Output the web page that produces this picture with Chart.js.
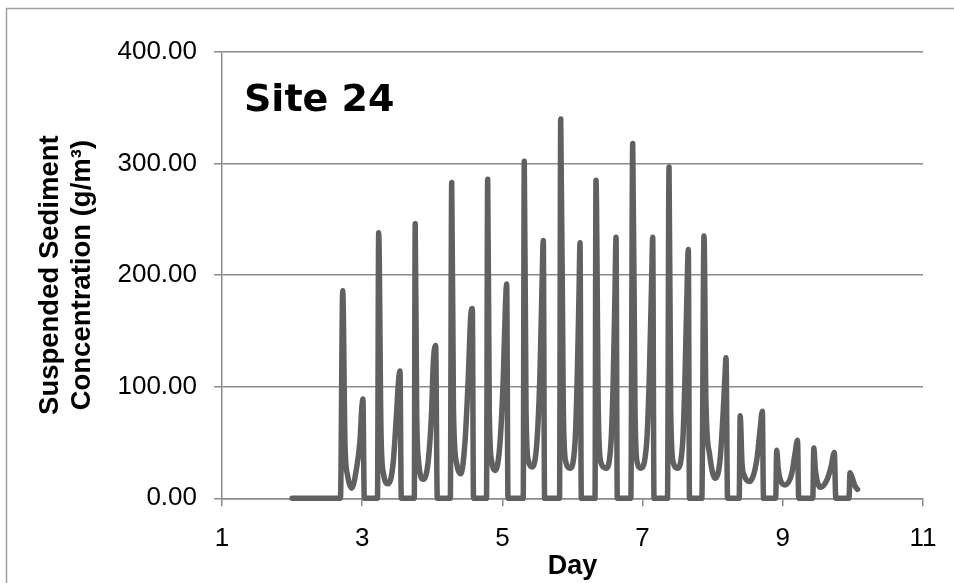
<!DOCTYPE html>
<html>
<head>
<meta charset="utf-8">
<title>Site 24 - Suspended Sediment Concentration</title>
<script src="https://cdn.jsdelivr.net/npm/chart.js@4/dist/chart.umd.min.js"></script>
<style>
  html, body { margin: 0; padding: 0; background: #ffffff; }
  #wrap { width: 954px; height: 583px; position: relative; }
</style>
</head>
<body>
<div id="wrap"><canvas id="chart" width="954" height="583"></canvas></div>
<script>
// Time (days) of each logged sample
const days = [
  2.000, 2.690,
  2.722, 2.755, 2.793, 2.850, 2.922, 2.969, 2.993, 3.010, 3.030,
  3.218, 3.235, 3.268, 3.304, 3.368, 3.439, 3.489, 3.518, 3.539, 3.558,
  3.743, 3.756, 3.777, 3.800, 3.872, 3.943, 3.991, 4.014, 4.048, 4.071,
  4.257, 4.277, 4.302, 4.348, 4.405, 4.466, 4.514, 4.548, 4.571, 4.588,
  4.773, 4.790, 4.813, 4.847, 4.902, 4.966, 5.013, 5.041, 5.061, 5.080,
  5.297, 5.312, 5.337, 5.369, 5.427, 5.494, 5.536, 5.565, 5.583, 5.602,
  5.815, 5.832, 5.869, 5.907, 5.964, 6.036, 6.068, 6.093, 6.107, 6.126,
  6.321, 6.335, 6.368, 6.406, 6.478, 6.549, 6.582, 6.606, 6.621, 6.639,
  6.832, 6.859, 6.892, 6.924, 6.973, 7.058, 7.096, 7.130, 7.144, 7.163,
  7.355, 7.377, 7.401, 7.438, 7.495, 7.572, 7.605, 7.633, 7.652, 7.669,
  7.845, 7.876, 7.904, 7.954, 8.033, 8.104, 8.151, 8.175, 8.190, 8.212,
  8.378, 8.392, 8.418, 8.454, 8.522, 8.628, 8.675, 8.708, 8.725,
  8.899, 8.913, 8.936, 8.974, 9.031, 9.127, 9.174, 9.210, 9.227,
  9.428, 9.442, 9.466, 9.538, 9.626, 9.688, 9.735, 9.756,
  9.944, 9.959, 9.987, 10.030, 10.066
];

// Suspended sediment concentration (g/m3) at each sample
const ssc = [
  0, 0,
  186, 48, 20, 9, 28, 52, 80, 89, 0,
  0, 238, 60, 22, 13, 30, 75, 105, 114, 0,
  0, 246, 79, 36, 17, 34, 79, 121, 137, 0,
  0, 283, 79, 31, 22, 50, 109, 163, 170, 0,
  0, 286, 79, 33, 25, 50, 109, 169, 192, 0,
  0, 302, 80, 34, 28, 52, 112, 190, 231, 0,
  0, 340, 79, 32, 27, 50, 109, 184, 229, 0,
  0, 285, 79, 32, 27, 50, 109, 185, 234, 0,
  0, 318, 79, 32, 27, 50, 109, 198, 234, 0,
  0, 297, 79, 32, 27, 50, 109, 184, 223, 0,
  0, 235, 85, 40, 18, 34, 79, 110, 126, 0,
  0, 74, 32, 20, 15, 34, 61, 78, 0,
  0, 43, 26, 15, 12, 22, 40, 52, 0,
  0, 45, 25, 10, 16, 28, 41, 0,
  0, 23, 19, 11, 8
];

// Axis tick values
const dayTicks = [1, 3, 5, 7, 9, 11];
const sscTicks = [0, 100, 200, 300, 400];

const siteLabel = 'Site 24';
const xTitle = 'Day';
const yTitle = ['Suspended Sediment', 'Concentration (g/m\u00B3)'];

const axisGrey = '#8a8a8a';
const lineGrey = '#606060';

const points = days.map((d, i) => ({ x: d, y: ssc[i] }));

// White page with a thin frame, plus the site label inside the plot
const decorations = {
  id: 'decorations',
  beforeDraw(chart) {
    const ctx = chart.ctx;
    ctx.save();
    ctx.fillStyle = '#ffffff';
    ctx.fillRect(0, 0, chart.width, chart.height);
    ctx.strokeStyle = '#a0a0a0';
    ctx.lineWidth = 1.5;
    ctx.beginPath();
    ctx.moveTo(6.5, chart.height + 5);
    ctx.lineTo(6.5, 8.5);
    ctx.lineTo(chart.width + 5, 8.5);
    ctx.stroke();
    ctx.restore();
  },
  afterDraw(chart) {
    const ctx = chart.ctx;
    ctx.save();
    ctx.fillStyle = '#000000';
    ctx.font = 'bold 38px "DejaVu Sans"';
    ctx.textBaseline = 'alphabetic';
    ctx.textAlign = 'left';
    ctx.fillText(siteLabel, 244, 111);
    ctx.restore();
  }
};

new Chart(document.getElementById('chart'), {
  type: 'line',
  data: {
    datasets: [{
      data: points,
      borderColor: lineGrey,
      borderWidth: 5.5,
      pointRadius: 0,
      pointHoverRadius: 0,
      fill: false,
      cubicInterpolationMode: 'monotone',
      borderJoinStyle: 'round',
      borderCapStyle: 'round',
      clip: false
    }]
  },
  options: {
    responsive: false,
    animation: false,
    devicePixelRatio: 1,
    layout: { padding: { top: 52, right: 31, bottom: 0, left: 0 } },
    plugins: {
      legend: { display: false },
      tooltip: { enabled: false },
      title: { display: false }
    },
    scales: {
      x: {
        type: 'linear',
        min: dayTicks[0],
        max: dayTicks[dayTicks.length - 1],
        afterBuildTicks(scale) {
          scale.ticks = dayTicks.map(v => ({ value: v }));
        },
        afterFit(scale) { scale.height = 84.7; },
        grid: {
          display: true,
          drawOnChartArea: false,
          drawTicks: true,
          tickLength: 8,
          color: axisGrey,
          lineWidth: 1.5
        },
        border: { display: true, color: axisGrey, width: 1.5 },
        ticks: {
          color: '#000000',
          padding: 17,
          maxRotation: 0,
          font: { family: '"Liberation Sans", Arial, sans-serif', size: 26 },
          callback: v => String(v)
        },
        title: {
          display: true,
          text: xTitle,
          color: '#000000',
          padding: { top: 0, bottom: 0 },
          font: { family: '"Liberation Sans", Arial, sans-serif', size: 27, weight: 'bold', lineHeight: 1.185 }
        }
      },
      y: {
        type: 'linear',
        min: sscTicks[0],
        max: sscTicks[sscTicks.length - 1],
        afterBuildTicks(scale) {
          scale.ticks = sscTicks.map(v => ({ value: v }));
        },
        afterFit(scale) { scale.width = 222; },
        grid: {
          display: true,
          drawOnChartArea: true,
          drawTicks: true,
          tickLength: 8,
          color: axisGrey,
          lineWidth: 1.5
        },
        border: { display: true, color: axisGrey, width: 1.5 },
        ticks: {
          color: '#000000',
          padding: 17,
          font: { family: '"Liberation Sans", Arial, sans-serif', size: 26 },
          callback: v => Number(v).toFixed(2)
        },
        title: {
          display: true,
          text: yTitle,
          color: '#000000',
          padding: { top: 34, bottom: 0 },
          font: { family: '"Liberation Sans", Arial, sans-serif', size: 27.5, weight: 'bold', lineHeight: 1.17 }
        }
      }
    }
  },
  plugins: [decorations]
});
</script>
</body>
</html>
